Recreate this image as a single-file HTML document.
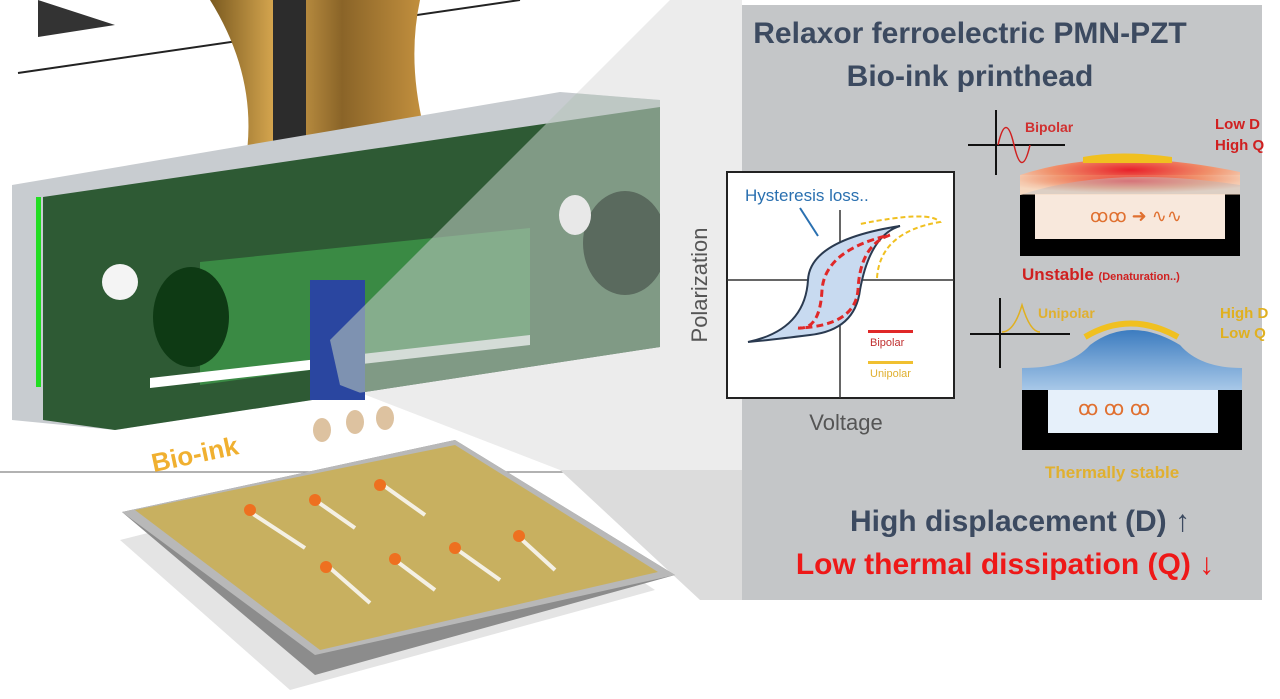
<!DOCTYPE html>
<html><head><meta charset="utf-8"><style>
html,body{margin:0;padding:0;background:#fff;width:1280px;height:699px;overflow:hidden}
svg{display:block}
text{font-family:"Liberation Sans",sans-serif}
</style></head><body>
<svg width="1280" height="699" viewBox="0 0 1280 699" xmlns="http://www.w3.org/2000/svg">
<defs>
<linearGradient id="gold" x1="0" x2="1"><stop offset="0" stop-color="#7a5a20"/><stop offset=".3" stop-color="#d8a850"/><stop offset=".6" stop-color="#8a6428"/><stop offset="1" stop-color="#c89440"/></linearGradient>
<radialGradient id="heat" cx=".5" cy=".3" r=".6"><stop offset="0" stop-color="#e8202a"/><stop offset=".6" stop-color="#f0906a"/><stop offset="1" stop-color="#f6d8c0"/></radialGradient>
<linearGradient id="blue" x1="0" y1="0" x2="0" y2="1"><stop offset="0" stop-color="#3c7cc0"/><stop offset="1" stop-color="#a8c8e8"/></linearGradient>
<clipPath id="blk"><polygon points="12,185 560,92 660,100 660,347 115,430 12,420"/></clipPath>
</defs>
<!-- gray panel -->
<rect x="742" y="5" width="520" height="595" fill="#c4c6c8"/>
<!-- wedge background -->
<polygon points="670,0 742,0 742,470 560,470 340,385 330,340" fill="#ececec"/>
<!-- top lines -->
<polygon points="38,0 115,25 38,37" fill="#333"/>
<line x1="18" y1="73" x2="520" y2="0" stroke="#222" stroke-width="2"/>
<!-- gold ribbon -->
<path d="M210,0 L420,0 Q405,70 430,150 L245,165 Q260,80 210,0Z" fill="url(#gold)"/>
<rect x="273" y="0" width="33" height="165" fill="#2c2c2c"/>
<!-- block -->
<polygon points="12,185 560,92 660,100 660,347 115,430 12,420" fill="#c8ccd0"/>
<polygon points="43,197 660,107 660,347 115,430 43,420" fill="#2e5a34"/>
<polygon points="200,262 530,228 530,340 200,385" fill="#3a8a44"/>
<rect x="36" y="197" width="5" height="190" fill="#22dd22"/>
<ellipse cx="191" cy="317" rx="38" ry="50" fill="#0e3a14"/>
<ellipse cx="120" cy="282" rx="18" ry="18" fill="#f4f4f4"/>
<polygon points="150,378 530,335 530,345 150,388" fill="#fff"/>
<rect x="310" y="280" width="55" height="120" fill="#2a46a0"/>
<!-- wedge over block -->
<g clip-path="url(#blk)">
<polygon points="670,0 742,0 742,470 560,470 340,385 330,340" fill="#b8c4bc" opacity=".6"/>
<ellipse cx="625" cy="243" rx="42" ry="52" fill="#5a6a5e"/>
<ellipse cx="575" cy="215" rx="16" ry="20" fill="#e8e8e8"/>
</g>
<line x1="0" y1="472" x2="742" y2="472" stroke="#999" stroke-width="1.5"/>
<polygon points="560,470 742,470 742,600 700,600" fill="#dcdcdc"/>
<!-- bio-ink -->
<text x="150" y="462" font-size="26" font-weight="bold" fill="#f0b030" transform="rotate(-12 200 450)">Bio-ink</text>
<g fill="#d8b890" opacity=".85"><ellipse cx="322" cy="430" rx="9" ry="12"/><ellipse cx="355" cy="422" rx="9" ry="12"/><ellipse cx="385" cy="418" rx="9" ry="12"/><ellipse cx="360" cy="475" rx="9" ry="12"/><ellipse cx="395" cy="468" rx="9" ry="12"/></g>
<!-- substrate -->
<polygon points="120,540 455,455 655,590 290,690" fill="#e4e4e4"/>
<polygon points="122,512 455,440 675,575 315,675" fill="#8c8c8c"/>
<polygon points="122,512 455,440 675,575 315,655" fill="#b8b8b8"/>
<polygon points="135,510 455,445 658,572 320,650" fill="#c8b060"/>
<g stroke="#f4f0e4" stroke-width="4" fill="none">
<line x1="250" y1="512" x2="305" y2="548"/><line x1="315" y1="500" x2="355" y2="528"/><line x1="380" y1="483" x2="425" y2="515"/>
<line x1="330" y1="568" x2="370" y2="603"/><line x1="395" y1="560" x2="435" y2="590"/><line x1="455" y1="548" x2="500" y2="580"/><line x1="520" y1="538" x2="555" y2="570"/>
</g>
<g fill="#ee7020"><circle cx="250" cy="510" r="6"/><circle cx="315" cy="500" r="6"/><circle cx="380" cy="485" r="6"/><circle cx="326" cy="567" r="6"/><circle cx="395" cy="559" r="6"/><circle cx="455" cy="548" r="6"/><circle cx="519" cy="536" r="6"/></g>
<!-- title -->
<text x="970" y="43" font-size="30" font-weight="bold" fill="#3c4a60" text-anchor="middle">Relaxor ferroelectric PMN-PZT</text>
<text x="970" y="86" font-size="30" font-weight="bold" fill="#3c4a60" text-anchor="middle">Bio-ink printhead</text>
<!-- chart -->
<rect x="727" y="172" width="227" height="226" fill="#fff" stroke="#222" stroke-width="2"/>
<line x1="840" y1="210" x2="840" y2="398" stroke="#333" stroke-width="1.5"/>
<line x1="727" y1="280" x2="954" y2="280" stroke="#333" stroke-width="1.5"/>
<path d="M748,342 Q805,330 808,280 Q810,240 900,226 Q870,235 860,290 Q855,330 810,335 Q770,340 748,342Z" fill="#c8daf0" stroke="#2a3a50" stroke-width="2"/>
<path d="M798,328 Q820,330 822,290 Q825,250 890,235 M890,235 Q860,245 858,290 Q855,325 800,328" fill="none" stroke="#e02828" stroke-width="3" stroke-dasharray="7,4"/>
<path d="M877,278 Q880,232 940,222 Q930,210 860,224" fill="none" stroke="#f0c020" stroke-width="2" stroke-dasharray="5,3"/>
<text x="745" y="201" font-size="17" fill="#2a70b0">Hysteresis loss..</text>
<line x1="800" y1="208" x2="818" y2="236" stroke="#2a70b0" stroke-width="2"/>
<rect x="868" y="330" width="45" height="3" fill="#e02828"/><text x="870" y="346" font-size="11" fill="#c03030">Bipolar</text>
<rect x="868" y="361" width="45" height="3" fill="#f0c030"/><text x="870" y="377" font-size="11" fill="#e0b030">Unipolar</text>
<text x="707" y="285" font-size="22" fill="#555" text-anchor="middle" transform="rotate(-90 707 285)">Polarization</text>
<text x="846" y="430" font-size="22" fill="#555" text-anchor="middle">Voltage</text>
<!-- top right diagram -->
<g stroke="#111" stroke-width="2" fill="none"><line x1="996" y1="110" x2="996" y2="175"/><line x1="968" y1="145" x2="1065" y2="145"/></g>
<path d="M998,145 Q1006,110 1014,145 Q1022,180 1030,145" stroke="#d02020" stroke-width="1.5" fill="none"/>
<text x="1025" y="132" font-size="14" font-weight="bold" fill="#d03030">Bipolar</text>
<text x="1215" y="129" font-size="15" font-weight="bold" fill="#d02020">Low D</text>
<text x="1215" y="150" font-size="15" font-weight="bold" fill="#d02020">High Q</text>
<rect x="1020" y="194" width="220" height="62" fill="#000"/>
<rect x="1035" y="194" width="190" height="45" fill="#f8e8dc"/>
<path d="M1020,175 Q1110,145 1240,172 L1240,185 Q1110,165 1020,195Z" fill="url(#heat)"/>
<rect x="1020" y="175" width="220" height="20" fill="url(#heat)" opacity=".5"/>
<path d="M1083,157 Q1120,150 1172,157 L1172,163 L1083,163Z" fill="#f0c020"/>
<text x="1090" y="222" font-size="18" fill="#e07030">ꝏꝏ ➜ ∿∿</text>
<text x="1022" y="280" font-size="17" font-weight="bold" fill="#d02020">Unstable <tspan font-size="11">(Denaturation..)</tspan></text>
<!-- bottom right diagram -->
<g stroke="#111" stroke-width="2" fill="none"><line x1="1000" y1="298" x2="1000" y2="368"/><line x1="970" y1="334" x2="1070" y2="334"/></g>
<path d="M1002,332 Q1014,332 1022,305 Q1030,332 1040,332" stroke="#e0b020" stroke-width="1.5" fill="none"/>
<text x="1038" y="318" font-size="14" font-weight="bold" fill="#e0b030">Unipolar</text>
<text x="1220" y="318" font-size="15" font-weight="bold" fill="#e0b020">High D</text>
<text x="1220" y="338" font-size="15" font-weight="bold" fill="#e0b020">Low Q</text>
<rect x="1022" y="390" width="220" height="60" fill="#000"/>
<rect x="1048" y="380" width="170" height="53" fill="#e6f0fa"/>
<path d="M1022,368 Q1070,368 1090,345 Q1130,315 1180,345 Q1200,368 1242,368 L1242,390 L1022,390Z" fill="url(#blue)"/>
<path d="M1085,337 Q1130,310 1178,337" stroke="#f0c020" stroke-width="6" fill="none"/>
<text x="1078" y="415" font-size="20" fill="#e07030">ꝏ  ꝏ  ꝏ</text>
<text x="1045" y="478" font-size="17" font-weight="bold" fill="#e0b030">Thermally stable</text>
<!-- bottom texts -->
<text x="1020" y="531" font-size="30" font-weight="bold" fill="#3c4a60" text-anchor="middle">High displacement (D) ↑</text>
<text x="1005" y="574" font-size="30" font-weight="bold" fill="#ee1818" text-anchor="middle">Low thermal dissipation (Q) ↓</text>
</svg>
</body></html>
